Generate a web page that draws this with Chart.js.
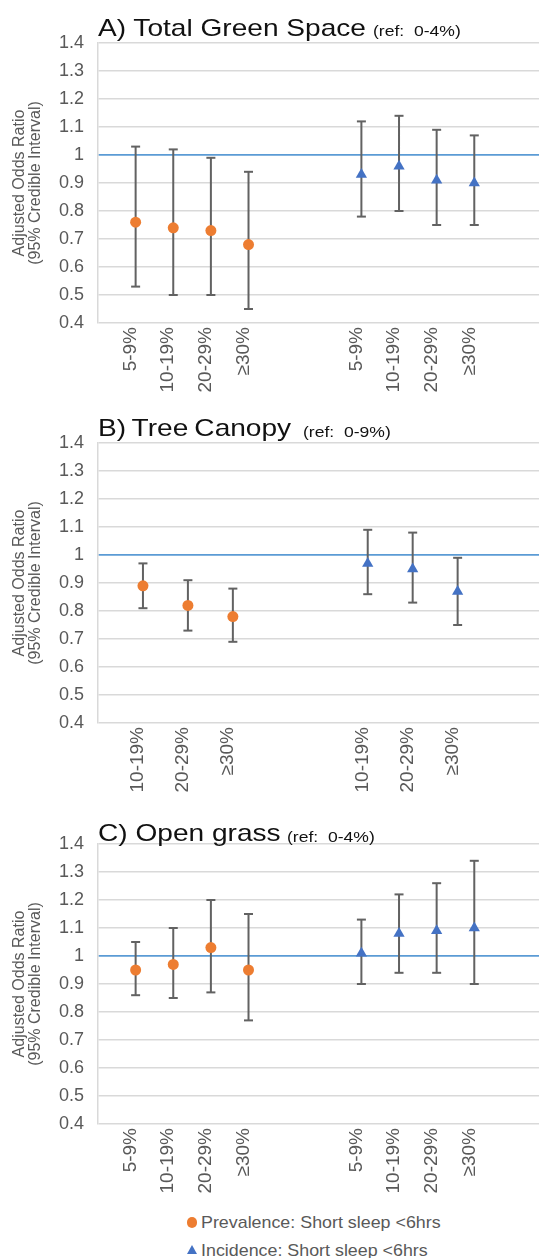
<!DOCTYPE html>
<html><head><meta charset="utf-8">
<script src="https://cdn.jsdelivr.net/npm/chart.js@4.4.1/dist/chart.umd.min.js"></script>
<style>
html,body{margin:0;padding:0;background:#fff;width:539px;height:1258px;overflow:hidden;position:relative;font-family:"Liberation Sans",Arial,sans-serif;}
canvas{position:absolute;left:0;}
.t{position:absolute;white-space:pre;transform-origin:0 0;transform:scaleX(1.17);color:#111;}
.tm{font-size:24px;line-height:24px;}
.tr{font-size:15px;line-height:15px;}
.lg{position:absolute;font-size:17px;line-height:17px;color:#595959;white-space:pre;transform-origin:0 0;transform:scaleX(1.05);}
.dot{position:absolute;width:10.5px;height:10.5px;border-radius:50%;background:#ED7D31;}
.tri{position:absolute;width:0;height:0;border-left:5.5px solid transparent;border-right:5.5px solid transparent;border-bottom:9.5px solid #4472C4;}
</style></head><body>
<canvas id="cA" width="539" height="367" style="top:31px"></canvas>
<canvas id="cB" width="539" height="367" style="top:431px"></canvas>
<canvas id="cC" width="539" height="367" style="top:832px"></canvas>

<div class="t tm" style="left:98px;top:15.7px">A) Total Green Space</div>
<div class="t tr" style="left:373px;top:23.3px">(ref:&nbsp; 0-4%)</div>
<div class="t tm" style="left:98px;top:416.2px;word-spacing:-1.5px">B) Tree Canopy</div>
<div class="t tr" style="left:303px;top:423.8px">(ref:&nbsp; 0-9%)</div>
<div class="t tm" style="left:98px;top:821.2px">C) Open grass</div>
<div class="t tr" style="left:287px;top:828.8px">(ref:&nbsp; 0-4%)</div>

<div class="dot" style="left:186.5px;top:1217px"></div>
<div class="lg" style="left:201px;top:1214px">Prevalence: Short sleep &lt;6hrs</div>
<div class="tri" style="left:186.5px;top:1245px"></div>
<div class="lg" style="left:201px;top:1241.6px">Incidence: Short sleep &lt;6hrs</div>

<script>
// ---- data ----
const Y_TICKS = [0.4, 0.5, 0.6, 0.7, 0.8, 0.9, 1.0, 1.1, 1.2, 1.3, 1.4];
const REF_OR = 1;
const Y_TITLE = ['Adjusted Odds Ratio', '(95% Credible Interval)'];
const SERIES_NAMES = ['Prevalence: Short sleep <6hrs', 'Incidence: Short sleep <6hrs'];

// A) Total Green Space
const A_CATS = ['5-9%', '10-19%', '20-29%', '≥30%'];
const A_PREV = [0.76, 0.74, 0.73, 0.68];
const A_PREV_LO = [0.53, 0.50, 0.50, 0.45];
const A_PREV_HI = [1.03, 1.02, 0.99, 0.94];
const A_INC = [0.93, 0.96, 0.91, 0.90];
const A_INC_LO = [0.78, 0.80, 0.75, 0.75];
const A_INC_HI = [1.12, 1.14, 1.09, 1.07];

// B) Tree Canopy
const B_CATS = ['10-19%', '20-29%', '≥30%'];
const B_PREV = [0.89, 0.82, 0.78];
const B_PREV_LO = [0.81, 0.73, 0.69];
const B_PREV_HI = [0.97, 0.91, 0.88];
const B_INC = [0.97, 0.95, 0.87];
const B_INC_LO = [0.86, 0.83, 0.75];
const B_INC_HI = [1.09, 1.08, 0.99];

// C) Open grass
const C_CATS = ['5-9%', '10-19%', '20-29%', '≥30%'];
const C_PREV = [0.95, 0.97, 1.03, 0.95];
const C_PREV_LO = [0.86, 0.85, 0.87, 0.77];
const C_PREV_HI = [1.05, 1.10, 1.20, 1.15];
const C_INC = [1.01, 1.08, 1.09, 1.10];
const C_INC_LO = [0.90, 0.94, 0.94, 0.90];
const C_INC_HI = [1.13, 1.22, 1.26, 1.34];

// ---- drawing ----
const GRAY = '#595959';
const BAR = '#626262';
const FONT = '"Liberation Sans", Arial, sans-serif';
function fmt(v){ return Number(v.toFixed(1)).toString(); }
function isRef(c){ return c.tick && Math.abs(c.tick.value - REF_OR) < 1e-9; }

function makePanel(id, plotTop, cats, prev, prevLo, prevHi, inc, incLo, incHi, xMax){
  const n = cats.length;
  const prevX = cats.map((c,i)=>i+1);
  const incX = cats.map((c,i)=>n+3+i);
  const tickPos = prevX.concat(incX);
  const tickLab = cats.concat(cats);
  const whisk = [], caps = [];
  function add(xs, lo, hi){
    xs.forEach((x,i)=>{
      whisk.push({x:x,y:lo[i]},{x:x,y:hi[i]},{x:x,y:null});
      caps.push({x:x,y:lo[i]},{x:x,y:hi[i]});
    });
  }
  add(prevX, prevLo, prevHi);
  add(incX, incLo, incHi);
  const cv = document.getElementById(id);
  const ch = new Chart(cv, {
    type:'scatter',
    data:{datasets:[
      {label:SERIES_NAMES[0], data:prevX.map((x,i)=>({x:x,y:prev[i]})), pointStyle:'circle', pointRadius:5.5, pointBackgroundColor:'#ED7D31', pointBorderWidth:0, showLine:false},
      {label:SERIES_NAMES[1], data:incX.map((x,i)=>({x:x,y:inc[i]})), pointStyle:'triangle', pointRadius:6.5, pointBackgroundColor:'#4472C4', pointBorderWidth:0, showLine:false},
      {label:'caps', data:caps, pointStyle:'line', pointRadius:4.5, pointBorderColor:BAR, pointBorderWidth:2, showLine:false},
      {label:'ci', data:whisk, showLine:true, spanGaps:false, pointRadius:0, borderColor:BAR, borderWidth:2}
    ]},
    options:{
      responsive:false, animation:false, events:[],
      layout:{autoPadding:false, padding:{top:12,left:0,right:0,bottom:0}},
      plugins:{legend:{display:false}, tooltip:{enabled:false}},
      scales:{
        x:{type:'linear', min:0, max:xMax,
           afterBuildTicks:(s)=>{ s.ticks = tickPos.map(v=>({value:v})); },
           afterFit:(s)=>{ s.height = 75; s.paddingLeft = 0; s.paddingRight = 0; },
           grid:{display:false, drawTicks:false}, border:{display:false},
           ticks:{autoSkip:false, minRotation:90, maxRotation:90, padding:4, labelOffset:-5, color:GRAY,
                  font:{family:FONT, size:19},
                  callback:(v)=>{ const k = tickPos.indexOf(v); return k>=0 ? tickLab[k] : ''; }}},
        y:{type:'linear', min:0.4, max:1.4,
           afterBuildTicks:(s)=>{ s.ticks = Y_TICKS.map(v=>({value:v})); },
           afterFit:(s)=>{ s.width = 98; s.paddingTop = 0; s.paddingBottom = 0; },
           grid:{drawTicks:false,
                 color:(c)=> isRef(c) ? '#5B9BD5' : '#D9D9D9',
                 lineWidth:(c)=> isRef(c) ? 1.75 : 1.5},
           border:{display:true, color:'#D9D9D9', width:1.5},
           ticks:{padding:14, color:GRAY, font:{family:FONT, size:18},
                  callback:(v)=>fmt(v)},
           title:{display:true, text:Y_TITLE, color:GRAY, padding:{top:12,bottom:0},
                  font:{family:FONT, size:16, lineHeight:1.0}}}
      }
    }
  });
  // place canvas so the plot area starts at the reference position
  cv.style.top = (plotTop - ch.chartArea.top) + 'px';
}
makePanel('cA', 43, A_CATS, A_PREV, A_PREV_LO, A_PREV_HI, A_INC, A_INC_LO, A_INC_HI, 11.72);
makePanel('cB', 443, B_CATS, B_PREV, B_PREV_LO, B_PREV_HI, B_INC, B_INC_LO, B_INC_HI, 9.81);
makePanel('cC', 844, C_CATS, C_PREV, C_PREV_LO, C_PREV_HI, C_INC, C_INC_LO, C_INC_HI, 11.72);
</script>
</body></html>
